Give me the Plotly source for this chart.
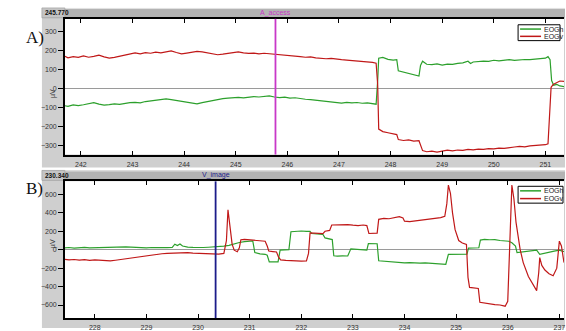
import plotly.graph_objects as go

# ---------------- data ----------------
# Panel A: EOG recording around the "A_access" event (time in s, amplitude in µV)
a_event_time = 245.770
a_event_label = "A_access"

a_h_t = [241.69, 241.75, 241.85, 241.95, 242.05, 242.15, 242.25, 242.35, 242.45, 242.55,
         242.65, 242.75, 242.85, 242.95, 243.05, 243.15, 243.25, 243.35, 243.45, 243.55,
         243.65, 243.75, 243.85, 243.95, 244.05, 244.15, 244.25, 244.35, 244.45, 244.55,
         244.65, 244.75, 244.85, 244.95, 245.05, 245.15, 245.25, 245.35, 245.45, 245.55,
         245.65, 245.75, 245.85, 245.95, 246.05, 246.15, 246.25, 246.35, 246.45, 246.55,
         246.65, 246.75, 246.85, 246.95, 247.05, 247.15, 247.25, 247.35, 247.45, 247.55,
         247.65, 247.72, 247.75, 247.77, 247.85, 247.95, 248.05, 248.12, 248.15, 248.25,
         248.35, 248.45, 248.55, 248.58, 248.62, 248.7, 248.8, 248.9, 249.0, 249.1,
         249.2, 249.3, 249.4, 249.5, 249.55, 249.6, 249.7, 249.8, 249.9, 250.0,
         250.1, 250.2, 250.3, 250.4, 250.5, 250.6, 250.7, 250.8, 250.9, 251.0,
         251.05, 251.09, 251.12, 251.16, 251.22, 251.28, 251.36]
a_h_v = [-92, -95, -88, -91, -87, -80, -76, -84, -89, -86,
         -82, -85, -79, -76, -74, -77, -70, -67, -64, -58,
         -56, -60, -65, -70, -76, -80, -82, -76, -70, -64,
         -58, -55, -52, -50, -48, -51, -47, -44, -46, -42,
         -40, -46, -49, -47, -52, -50, -55, -58, -60, -63,
         -66, -69, -73, -76, -78, -74, -77, -75, -79, -77,
         -82, -84, 40, 158, 162, 152, 148, 150, 92, 86,
         80, 73, 64, 120, 142, 126, 124, 128, 122, 127,
         125, 131, 133, 142, 130, 138, 140, 143, 141, 147,
         144, 146, 150, 146, 149, 151, 150, 154, 156, 158,
         166, 150, 40, 16, 20, 12, 8]

a_v_t = [241.69, 241.75, 241.85, 241.95, 242.05, 242.15, 242.25, 242.35, 242.45, 242.55,
         242.65, 242.75, 242.85, 242.95, 243.05, 243.15, 243.25, 243.35, 243.45, 243.55,
         243.65, 243.75, 243.85, 243.95, 244.05, 244.15, 244.25, 244.35, 244.45, 244.55,
         244.65, 244.75, 244.85, 244.95, 245.05, 245.15, 245.25, 245.35, 245.45, 245.55,
         245.65, 245.75, 245.85, 245.95, 246.05, 246.15, 246.25, 246.35, 246.45, 246.55,
         246.65, 246.75, 246.85, 246.95, 247.05, 247.15, 247.25, 247.35, 247.45, 247.55,
         247.65, 247.72, 247.75, 247.77, 247.85, 247.95, 248.05, 248.12, 248.15, 248.25,
         248.35, 248.45, 248.55, 248.58, 248.62, 248.7, 248.8, 248.9, 249.0, 249.1,
         249.2, 249.3, 249.4, 249.5, 249.6, 249.7, 249.8, 249.9, 250.0, 250.1,
         250.2, 250.3, 250.4, 250.5, 250.6, 250.7, 250.8, 250.9, 251.0, 251.05,
         251.08, 251.11, 251.15, 251.2, 251.28, 251.36]
a_v_v = [168, 160, 166, 162, 170, 163, 168, 174, 165, 158,
         162, 168, 176, 183, 186, 181, 187, 184, 190, 186,
         192, 196, 188, 181, 185, 190, 194, 191, 186, 180,
         176, 179, 184, 188, 191, 186, 183, 185, 181, 184,
         182, 179, 176, 174, 171, 169, 166, 163, 165, 160,
         158, 155, 157, 152, 150, 148, 146, 143, 141, 139,
         136, 132, 20, -215, -228, -234, -240, -244, -270, -275,
         -272, -278, -276, -300, -328, -334, -331, -336, -330, -326,
         -329, -325, -327, -322, -324, -320, -322, -318, -319, -315,
         -316, -311, -309, -306, -308, -303, -301, -300, -297, -292,
         -150, 5, 20, 28, 38, 36]

# Panel B: EOG recording around the "V_image" event
b_event_time = 230.340
b_event_label = "V_image"

b_h_t = [227.42, 227.5, 227.6, 227.7, 227.8, 227.9, 228.0, 228.1, 228.2, 228.3,
         228.4, 228.5, 228.6, 228.7, 228.8, 228.9, 229.0, 229.1, 229.2, 229.3,
         229.4, 229.5, 229.55, 229.6, 229.65, 229.7, 229.8, 229.9, 230.0, 230.1,
         230.2, 230.3, 230.4, 230.5, 230.6, 230.65, 230.7, 230.8, 230.9, 231.0,
         231.06, 231.1, 231.2, 231.3, 231.34, 231.38, 231.45, 231.55, 231.59, 231.7,
         231.76, 231.8, 231.9, 232.0, 232.1, 232.17, 232.2, 232.3, 232.42, 232.46,
         232.55, 232.6, 232.63, 232.7, 232.8, 232.9, 232.96, 233.05, 233.15, 233.27,
         233.3, 233.4, 233.47, 233.5, 233.6, 233.7, 233.8, 233.9, 234.0, 234.1,
         234.2, 234.3, 234.4, 234.5, 234.6, 234.7, 234.8, 234.85, 234.95, 235.05,
         235.15, 235.21, 235.24, 235.35, 235.44, 235.47, 235.55, 235.65, 235.75, 235.85,
         235.95, 236.02, 236.08, 236.15, 236.18, 236.3, 236.4, 236.5, 236.56, 236.62,
         236.7, 236.8, 236.9, 237.0, 237.09]
b_h_v = [21, 24, 18, 22, 26, 20, 22, 27, 25, 30,
         28, 33, 31, 28, 24, 26, 21, 24, 22, 19,
         23, 26, 60, 45, 62, 40, 28, 25, 21, 24,
         27, 30, 33, 38, 48, 57, 60, 78, 88, 92,
         95, -30, -45, -50, -60, -132, -135, -132, -5, -3,
         0, 195, 200, 203, 198, 200, 176, 170, 165, 128,
         115, 110, -66, -70, -66, -68, 10, 8, 4, -4,
         66, 70, 65, -120, -125, -130, -138, -140, -142, -140,
         -144, -146, -142, -148, -150, -154, -158, -50, -48, -50,
         -52, -48, 18, 22, 21, 105, 112, 108, 110, 100,
         96, 92, 75, 40, -32, -25, -15, -6, -4, -50,
         -38, -25, -15, -4, -20]

b_v_t = [227.42, 227.5, 227.6, 227.7, 227.8, 227.9, 228.0, 228.1, 228.2, 228.3,
         228.4, 228.5, 228.6, 228.7, 228.8, 228.9, 229.0, 229.1, 229.2, 229.3,
         229.4, 229.5, 229.6, 229.7, 229.8, 229.9, 230.0, 230.1, 230.2, 230.3,
         230.4, 230.5, 230.55, 230.58, 230.62, 230.66, 230.7, 230.76, 230.8, 230.83,
         230.9, 231.0, 231.1, 231.2, 231.3, 231.34, 231.37, 231.45, 231.52, 231.56,
         231.6, 231.7, 231.8, 231.9, 232.0, 232.1, 232.14, 232.17, 232.25, 232.35,
         232.42, 232.46, 232.55, 232.59, 232.7, 232.8, 232.9, 233.0, 233.1, 233.2,
         233.27, 233.31, 233.4, 233.47, 233.5, 233.6, 233.7, 233.8, 233.9, 233.97,
         234.0, 234.1, 234.2, 234.3, 234.4, 234.5, 234.6, 234.7, 234.78, 234.82,
         234.85, 234.89, 234.93, 234.98, 235.05, 235.12, 235.2, 235.23, 235.26, 235.35,
         235.43, 235.46, 235.55, 235.65, 235.75, 235.85, 235.95, 236.0, 236.04, 236.08,
         236.12, 236.16, 236.24, 236.3, 236.4, 236.5, 236.56, 236.6, 236.62, 236.66,
         236.72, 236.8, 236.88, 236.95, 237.0, 237.04, 237.09]
b_v_v = [-104, -110, -106, -112, -108, -115, -111, -116, -120, -122,
         -114, -106, -97, -92, -80, -72, -61, -55, -48, -44,
         -39, -36, -30, -34, -32, -37, -40, -44, -47, -50,
         -48, -40, 100, 433, 250, 60, -5, -22, 20, 108,
         112, 105, 100, 96, 92, 40, -14, -20, -25, -80,
         -110, -115, -120, -118, -124, -122, -40, 182, 178, 176,
         175, 200, 210, 268, 270, 265, 272, 266, 262, 268,
         262, 176, 174, 180, 330, 340, 336, 345, 358, 344,
         310, 305, 312, 318, 325, 330, 338, 348, 362, 500,
         702, 613, 400, 218, 100, 72, 57, -300, -409, -415,
         -420, -570, -580, -590, -595, -600, -613, -560, 100, 702,
         550, 300, 3, -140, -290, -380, -444, -250, -86, -170,
         -220, -260, -283, -200, 93, 40, -140]

series_names = ["EOGh", "EOGv"]
series_colors = ["#2ca02c", "#c01818"]
panel_labels = ["A)", "B)"]
a_yticks = [-300, -200, -100, 0, 100, 200, 300]
b_yticks = [-600, -400, -200, 0, 200, 400, 600]
a_xticks = [242, 243, 244, 245, 246, 247, 248, 249, 250, 251]
b_xticks = [228, 229, 230, 231, 232, 233, 234, 235, 236, 237]
y_unit = "µV"

# ---------------- layout helpers ----------------
W, H = 566, 331


def px(x):
    return x / W


def py(y):
    return 1 - y / H


FRAME = "#cfcfcf"
HEADER = "#b3b3b3"
TICKFONT = dict(family="Liberation Sans, Arial, sans-serif", size=7, color="#333333")

panels = [
    dict(top=19, bottom=156, frame=(8, 169), header=(8, 18),
         series=[(a_h_t, a_h_v), (a_v_t, a_v_v)], xr=[241.69, 251.36], yr=[-349, 365],
         xt=a_xticks, yt=a_yticks, ev_t=a_event_time, ev_lab=a_event_label, ev_col="#c838c8",
         legend=(519, 25, 561, 41)),
    dict(top=183, bottom=321, frame=(172, 331), header=(172, 182),
         series=[(b_h_t, b_h_v), (b_v_t, b_v_v)], xr=[227.42, 237.09], yr=[-742, 742],
         xt=b_xticks, yt=b_yticks, ev_t=b_event_time, ev_lab=b_event_label, ev_col="#1c1c8a",
         legend=(519, 188, 564, 205)),
]

PLOT_L, PLOT_R = 65, 565

fig = go.Figure()
shapes = []
annotations = []

for i, p in enumerate(panels):
    n = "" if i == 0 else str(i + 1)
    xa, ya = "x" + n, "y" + n
    for (t, v), name, col in zip(p["series"], series_names, series_colors):
        fig.add_trace(go.Scatter(x=t, y=v, mode="lines", name=name, xaxis=xa, yaxis=ya,
                                 line=dict(color=col, width=1.2), showlegend=False,
                                 hoverinfo="skip"))

    axis_common = dict(showgrid=False, showline=True, linecolor="#000000", linewidth=1.5,
                       ticks="inside", ticklen=4, tickcolor="#000000", tickfont=TICKFONT,
                       ticklabeloverflow="allow")
    fig.layout["xaxis" + n] = dict(axis_common, domain=[px(PLOT_L), px(PLOT_R)],
                                   anchor=ya, range=p["xr"], tickvals=p["xt"],
                                   mirror="ticks", ticklabelstandoff=2)
    fig.layout["yaxis" + n] = dict(axis_common, domain=[py(p["bottom"]), py(p["top"])],
                                   anchor=xa, range=p["yr"], tickvals=p["yt"],
                                   ticks="outside", ticklen=5, mirror=False,
                                   zeroline=True, zerolinecolor="#9a9a9a", zerolinewidth=1)

    f0, f1 = p["frame"]
    h0, h1 = p["header"]
    # grey window frame, header bar and white plotting area
    shapes.append(dict(type="rect", xref="paper", yref="paper", layer="below",
                       x0=px(42), x1=px(566), y0=py(f1), y1=py(f0),
                       fillcolor=FRAME, line=dict(width=0)))
    shapes.append(dict(type="rect", xref="paper", yref="paper", layer="below",
                       x0=px(42), x1=px(566), y0=py(h1), y1=py(h0),
                       fillcolor=HEADER, line=dict(width=0)))
    shapes.append(dict(type="line", xref="paper", yref="paper", layer="below",
                       x0=px(42), x1=px(566), y0=py(h0 + 0.5), y1=py(h0 + 0.5),
                       line=dict(color="#e6e6e6", width=1)))
    shapes.append(dict(type="rect", xref="paper", yref="paper", layer="below",
                       x0=px(42), x1=px(PLOT_L), y0=py(h1), y1=py(h0),
                       fillcolor="#c4c4c4", line=dict(color="#9a9a9a", width=0.6)))
    shapes.append(dict(type="rect", xref="paper", yref="paper", layer="below",
                       x0=px(PLOT_L), x1=px(PLOT_R), y0=py(p["bottom"]), y1=py(p["top"]),
                       fillcolor="#ffffff", line=dict(width=0)))

    # event marker
    shapes.append(dict(type="line", xref=xa, yref=ya + " domain", layer="above",
                       x0=p["ev_t"], x1=p["ev_t"], y0=0, y1=1,
                       line=dict(color=p["ev_col"], width=1.8)))
    annotations.append(dict(x=p["ev_t"], y=py((h0 + h1) / 2), xref=xa, yref="paper",
                            text=p["ev_lab"], showarrow=False, xanchor="center",
                            yanchor="middle",
                            font=dict(family="Liberation Sans, Arial", size=7,
                                      color=p["ev_col"])))
    # event time readout
    annotations.append(dict(x=px(43.5), y=py((h0 + h1) / 2), xref="paper", yref="paper",
                            text="<b>%.3f</b>" % p["ev_t"], showarrow=False,
                            xanchor="left", yanchor="middle",
                            font=dict(family="Liberation Sans, Arial", size=6.5,
                                      color="#111111")))
    # unit label
    annotations.append(dict(x=px(47), y=py((p["top"] + p["bottom"]) / 2), xref="paper",
                            yref="paper", text=y_unit, textangle=-90, showarrow=False,
                            font=dict(family="Liberation Sans, Arial", size=7,
                                      color="#333333")))
    # panel label
    annotations.append(dict(x=px(24), y=py(p["top"] + 7), xref="paper", yref="paper",
                            text=panel_labels[i], showarrow=False,
                            font=dict(family="Liberation Serif, Times New Roman, serif",
                                      size=17, color="#111111")))

    # legend box
    lx0, ly0, lx1, ly1 = p["legend"]
    shapes.append(dict(type="rect", xref="paper", yref="paper", layer="above",
                       x0=px(lx0), x1=px(lx1), y0=py(ly1), y1=py(ly0),
                       fillcolor="#ffffff", line=dict(color="#000000", width=1)))
    for k, (name, col) in enumerate(zip(series_names, series_colors)):
        yy = ly0 + (ly1 - ly0) * (0.27 + 0.46 * k)
        shapes.append(dict(type="line", xref="paper", yref="paper", layer="above",
                           x0=px(lx0 + 2), x1=px(lx0 + 23), y0=py(yy), y1=py(yy),
                           line=dict(color=col, width=1.5)))
        annotations.append(dict(x=px(lx0 + 24), y=py(yy), xref="paper", yref="paper",
                                text=name, showarrow=False, xanchor="left",
                                yanchor="middle",
                                font=dict(family="Liberation Sans, Arial", size=7,
                                          color="#222222")))

fig.update_layout(width=W, height=H, margin=dict(l=0, r=0, t=0, b=0),
                  paper_bgcolor="#ffffff", plot_bgcolor="rgba(0,0,0,0)",
                  shapes=shapes, annotations=annotations, showlegend=False)

fig.write_html("out.html")
